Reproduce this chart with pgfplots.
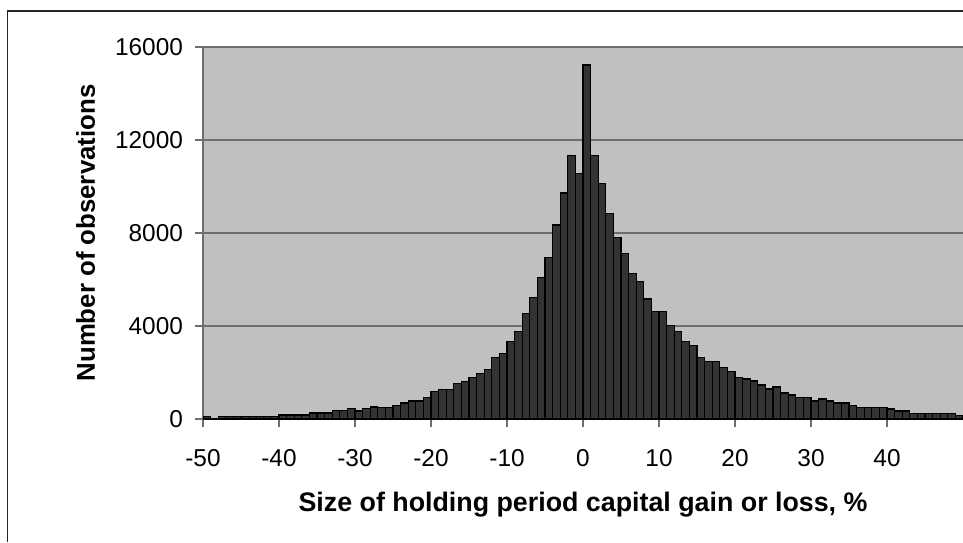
\documentclass[border=0pt]{standalone}
\usepackage{pgfplots}
\pgfplotsset{compat=1.18}
\usepackage{pgfplotstable}
\usepackage{fontspec}
\setmainfont{Liberation Sans}
\definecolor{plotbg}{HTML}{C0C0C0}
\definecolor{barfill}{HTML}{333333}
\definecolor{gridc}{HTML}{6E6E6E}

\pgfplotstableread{
x y
-50 100
-49 0
-48 100
-47 100
-46 100
-45 100
-44 100
-43 100
-42 100
-41 100
-40 170
-39 170
-38 170
-37 170
-36 260
-35 260
-34 260
-33 370
-32 370
-31 456
-30 344
-29 456
-28 520
-27 500
-26 500
-25 585
-24 688
-23 774
-22 774
-21 917
-20 1190
-19 1275
-18 1275
-17 1532
-16 1618
-15 1790
-14 1962
-13 2120
-12 2650
-11 2822
-10 3337
-9 3768
-8 4542
-7 5230
-6 6090
-5 6950
-4 8340
-3 9720
-2 11340
-1 10570
0 15220
1 11330
2 10130
3 8840
4 7800
5 7120
6 6260
7 5920
8 5160
9 4620
10 4620
11 4030
12 3770
13 3325
14 3170
15 2640
16 2465
17 2465
18 2207
19 2035
20 1790
21 1720
22 1634
23 1462
24 1290
25 1376
26 1118
27 1032
28 930
29 930
30 774
31 860
32 774
33 688
34 688
35 585
36 500
37 500
38 500
39 500
40 430
41 344
42 344
43 240
44 240
45 240
46 240
47 240
48 240
49 155
50 0
}\datatable

\begin{document}
\begin{tikzpicture}[x=1pt,y=1pt]
\useasboundingbox (0,0) rectangle (481.5,271);
\draw[line width=0.6pt, black!85] (3.75,0) -- (3.75,265.5) -- (481.5,265.5);
\begin{axis}[
  at={(101.5pt,61.5pt)}, anchor=south west,
  scale only axis, width=380pt, height=186pt,
  xmin=-50, xmax=50, ymin=0, ymax=16000,
  scaled y ticks=false, scaled x ticks=false,
  axis background/.style={fill=plotbg},
  axis x line*=bottom, axis y line*=left,
  x axis line style={black, line width=0.7pt},
  y axis line style={gridc, line width=0.7pt},
  xtick={-50,-40,-30,-20,-10,0,10,20,30,40},
  xticklabels={-50,-40,-30,-20,-10,0,10,20,30,40},
  ytick={0,4000,8000,12000,16000},
  yticklabels={0,4000,8000,12000,16000},
  tick align=outside, major tick length=4pt,
  tick style={gridc, line width=0.6pt},
  ymajorgrids, grid style={gridc, line width=0.65pt},
  ticklabel style={font=\fontsize{12.2}{14}\selectfont},
  xticklabel style={yshift=-7.5pt},
  yticklabel style={xshift=-2.5pt},
  xlabel={Size of holding period capital gain or loss, \%},
  xlabel style={font=\fontsize{13.4}{16}\selectfont\bfseries, at={(axis description cs:0.5,-0.249)}, anchor=base},
  ylabel={Number of observations},
  ylabel style={font=\fontsize{12.9}{15}\selectfont\bfseries, at={(axis description cs:-0.1421,0.5)}, anchor=base},
]
\addplot[ybar interval, fill=barfill, draw=black, line width=0.65pt] table {\datatable};
\end{axis}
\end{tikzpicture}
\end{document}
